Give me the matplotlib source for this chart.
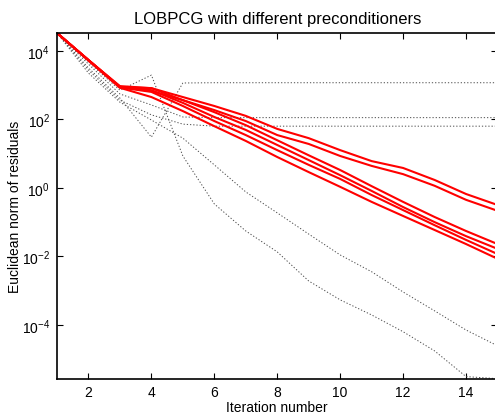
# -*- coding: utf-8 -*-
"""
LOBPCG residual history with different preconditioners.
"""

import matplotlib
matplotlib.use('Agg')
import matplotlib.pyplot as plt

plt.rcParams['font.family'] = ['Liberation Sans', 'DejaVu Sans']
plt.rcParams['mathtext.fontset'] = 'custom'
plt.rcParams['mathtext.rm'] = 'Liberation Sans'
plt.rcParams['mathtext.it'] = 'Liberation Sans:italic'
plt.rcParams['font.size'] = 10

# iteration numbers
iters = [1, 2, 3, 4, 5, 6, 7, 8, 9, 10, 11, 12, 13, 14, 15]

# residual norms, good preconditioners (red)
red_a = [3.31e4, 5.37e3, 933, 813, 447, 245, 126, 52.5, 28.2, 12.6,
         6.03, 3.80, 1.70, 0.661, 0.316]
red_b = [3.31e4, 5.37e3, 871, 676, 363, 186, 89.1, 34.7, 19.1, 8.51,
         4.37, 2.51, 1.15, 0.447, 0.214]
red_c = [3.31e4, 5.37e3, 871, 813, 363, 162, 67.6, 24.5, 8.91, 3.31,
         1.12, 0.389, 0.141, 0.0550, 0.0229]
red_d = [3.31e4, 5.37e3, 891, 708, 302, 117, 49.0, 17.8, 6.46, 2.34,
         0.813, 0.275, 0.100, 0.0389, 0.0166]
red_e = [3.31e4, 5.25e3, 851, 631, 245, 89.1, 34.7, 12.6, 4.68, 1.82,
         0.617, 0.224, 0.0813, 0.0302, 0.0117]
red_f = [3.31e4, 5.25e3, 832, 447, 174, 63.1, 23.4, 7.94, 2.88, 1.07,
         0.389, 0.151, 0.0589, 0.0229, 0.00851]

# residual norms, other preconditioners (dotted)
dot_a = [3.31e4, 3.16e3, 417, 30.2, 1.15e3, 1.17e3, 1.17e3, 1.17e3,
         1.17e3, 1.17e3, 1.17e3, 1.17e3, 1.17e3, 1.17e3, 1.17e3]
dot_b = [3.31e4, 4.07e3, 550, 263, 117, 112, 112, 112, 112, 112,
         112, 112, 112, 112, 112]
dot_c = [3.31e4, 2.75e3, 363, 135, 72.4, 63.1, 63.1, 63.1, 63.1, 63.1,
         63.1, 63.1, 63.1, 63.1, 63.1]
dot_d = [3.31e4, 2.24e3, 316, 95.5, 28.2, 4.68, 0.759, 0.186, 0.0447,
         0.0110, 3.55e-3, 9.12e-4, 2.57e-4, 7.08e-5, 2.45e-5]
dot_e = [3.31e4, 4.68e3, 708, 1.95e3, 8.51, 0.339, 0.0550, 0.0135,
         1.91e-3, 5.37e-4, 1.95e-4, 6.31e-5, 1.74e-5, 3.09e-6, 2.69e-6]

red_lines = [red_a, red_b, red_c, red_d, red_e, red_f]
dot_lines = [dot_a, dot_b, dot_c, dot_d, dot_e]

fig = plt.figure(figsize=(4.95, 4.14), dpi=100)
ax = fig.add_axes([57/495, 34/414, 440.5/495, 346/414])

for r in dot_lines:
    ax.semilogy(iters, r, color='0.3', lw=0.7, linestyle=(0, (1.3, 2.0)))
for r in red_lines:
    ax.semilogy(iters, r, color='red', lw=1.5)

ax.set_xlim(1, 15)
ax.set_ylim(2.63e-6, 3.31e4)
ax.set_xticks([2, 4, 6, 8, 10, 12, 14])
ax.set_yticks([1e-4, 1e-2, 1e0, 1e2, 1e4])
ax.minorticks_off()
ax.tick_params(direction='in', top=True, right=True, length=4, width=0.8)
ax.tick_params(axis='x', pad=4)
ax.tick_params(axis='y', pad=5)
for s in ax.spines.values():
    s.set_linewidth(1.2)

ax.set_title('LOBPCG with different preconditioners', pad=7)
ax.set_xlabel('Iteration number', labelpad=1)
ax.set_ylabel('Euclidean norm of residuals', labelpad=0)

fig.savefig('out.png', dpi=100)
